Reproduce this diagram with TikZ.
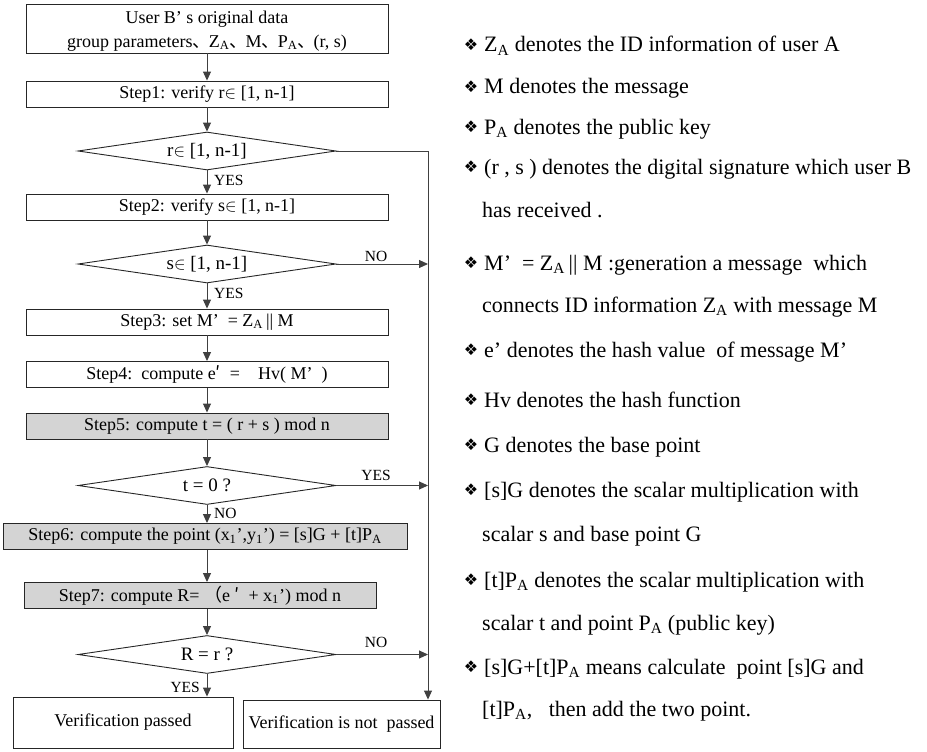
\documentclass[tikz,border=0pt]{standalone}
\usepackage{fontspec}
\setmainfont{Liberation Serif}
\newfontfamily\cjk{Noto Sans CJK SC}
\newfontfamily\dejavu{DejaVu Sans}
\usetikzlibrary{shapes.geometric,arrows.meta}
\newcommand{\dun}{\makebox[0.9em][l]{\cjk 、}}
\newcommand{\sA}{\textsubscript{A}}
\newcommand{\pr}{{\cjk ′}}
\begin{document}
\begin{tikzpicture}[x=1pt,y=-1pt,
  box/.style={draw=black!85, line width=0.9pt, minimum height=26pt, minimum width=362pt, inner sep=0pt, font=\fontsize{18}{23.5}\selectfont},
  graybox/.style={box, fill=black!17},
  dec/.style={diamond, draw=black!85, line width=0.9pt, aspect=6.8, minimum width=258pt, minimum height=38pt, inner sep=0pt, font=\fontsize{19}{21}\selectfont},
  endbox/.style={draw=black!85, line width=0.9pt, inner sep=0pt, font=\fontsize{18}{21}\selectfont},
  arr/.style={draw=black!75, line width=1pt, -{Triangle[length=9pt,width=8pt]}},
  lbl/.style={inner sep=0pt, font=\fontsize{15.5}{17}\selectfont},
  txt/.style={anchor=base west, inner sep=0pt, font=\fontsize{22}{25}\selectfont},
  bul/.style={inner sep=0pt, font=\dejavu\fontsize{16}{18}\selectfont}]
\useasboundingbox (0,0) rectangle (927,752);

% flowchart
\node[box, minimum height=49pt] (top) at (207,28.5) {};
\node[inner sep=0pt, align=center, font=\fontsize{18}{23.5}\selectfont] (toptxt) at (207,31) {User B’ s original data\\group parameters\dun Z\sA\dun M\dun P\sA\dun (r, s)};
\node[box] (s1) at (207,94) {Step1: verify r$\in$ [1, n-1]};
\node[dec] (d1) at (207,151) {r$\in$ [1, n-1]};
\node[box] (s2) at (207,207) {Step2: verify s$\in$ [1, n-1]};
\node[dec] (d2) at (207,264) {s$\in$ [1, n-1]};
\node[box] (s3) at (207,322) {Step3: set M’\ \ = Z\sA\,|| M};
\node[box] (s4) at (207,374.5) {Step4:\ \ compute e\pr\ \ =\ \ \ \ Hv( M’\ \ )};
\node[graybox] (s5) at (207,426) {Step5: compute t = ( r + s ) mod n};
\node[dec] (d3) at (207,485.5) {t = 0 ?};
\node[graybox, minimum width=404pt] (s6) at (205,536.5) {Step6: compute the point (x\textsubscript{1}',y\textsubscript{1}') = [s]G + [t]P\sA};
\node[graybox, minimum width=352pt] (s7) at (200,595.5) {Step7: compute R= {\cjk （}e \pr\ \ + x\textsubscript{1}') mod n};
\node[dec] (d4) at (207,654.5) {R = r ?};
\node[endbox, minimum width=220pt, minimum height=51pt] (ok) at (123,722.5) {Verification passed};
\node[endbox, minimum width=197pt, minimum height=48pt] (np) at (341.5,724) {Verification is not\ \ passed};
\coordinate (rx) at (428,0);
\coordinate (cx) at (207,0);

\draw[arr] (top) -- (s1);
\draw[arr] (s1) -- (d1);
\draw[arr] (d1) -- (s2);
\draw[arr] (s2) -- (d2);
\draw[arr] (d2) -- (s3);
\draw[arr] (s3) -- (s4);
\draw[arr] (s4) -- (s5);
\draw[arr] (s5) -- (d3);
\draw[arr] (d3.south) -- (s6.north -| cx);
\draw[arr] (s6.south -| cx) -- (s7.north -| cx);
\draw[arr] (s7.south -| cx) -- (d4.north);
\draw[arr] (d4.south) -- (ok.north -| cx);
\draw[arr] (d1.east) -| (np.north -| rx);
\draw[arr] (d2.east) -- (d2.east -| rx);
\draw[arr] (d3.east) -- (d3.east -| rx);
\draw[arr] (d4.east) -- (d4.east -| rx);

\node[lbl, anchor=west] (l1) at (214,180) {YES};
\node[lbl, anchor=west] (l2) at (214,293) {YES};
\node[lbl] (l3) at (376,256) {NO};
\node[lbl] (l4) at (376,475) {YES};
\node[lbl, anchor=west] (l5) at (214,513) {NO};
\node[lbl] (l6) at (376,642) {NO};
\node[lbl, anchor=east] (l7) at (200,687) {YES};

% legend
\node[bul] (b1) at (471,45) {❖};
\node[txt] (t1) at (484,52) {Z\sA{} denotes the ID information of user A};
\node[bul] (b2) at (471,87) {❖};
\node[txt] (t2) at (484,94) {M denotes the message};
\node[bul] (b3) at (471,127) {❖};
\node[txt] (t3) at (484,134) {P\sA{} denotes the public key};
\node[bul] (b4) at (471,167) {❖};
\node[txt] (t4) at (484,174) {(r , s ) denotes the digital signature which user B};
\node[txt] (t5) at (482,217) {has received .};
\node[bul] (b6) at (471,263) {❖};
\node[txt] (t6) at (484,270) {M’\ \ = Z\sA\,|| M :generation a message\ \ which};
\node[txt] (t7) at (482,312) {connects ID information Z\sA{} with message M};
\node[bul] (b8) at (471,350) {❖};
\node[txt] (t8) at (484,357) {e’ denotes the hash value\ \ of message M’};
\node[bul] (b9) at (471,400) {❖};
\node[txt] (t9) at (484,407) {Hv denotes the hash function};
\node[bul] (b10) at (471,445) {❖};
\node[txt] (t10) at (484,452) {G denotes the base point};
\node[bul] (b11) at (471,490) {❖};
\node[txt] (t11) at (484,497) {[s]G denotes the scalar multiplication with};
\node[txt] (t12) at (482,541) {scalar s and base point G};
\node[bul] (b13) at (471,580) {❖};
\node[txt] (t13) at (484,587) {[t]P\sA{} denotes the scalar multiplication with};
\node[txt] (t14) at (482,630) {scalar t and point P\sA{} (public key)};
\node[bul] (b15) at (471,667) {❖};
\node[txt] (t15) at (484,674) {[s]G+[t]P\sA{} means calculate\ \ point [s]G and};
\node[txt] (t16) at (482,716) {[t]P\sA,\ \ \ then add the two point.};
\end{tikzpicture}
\end{document}
